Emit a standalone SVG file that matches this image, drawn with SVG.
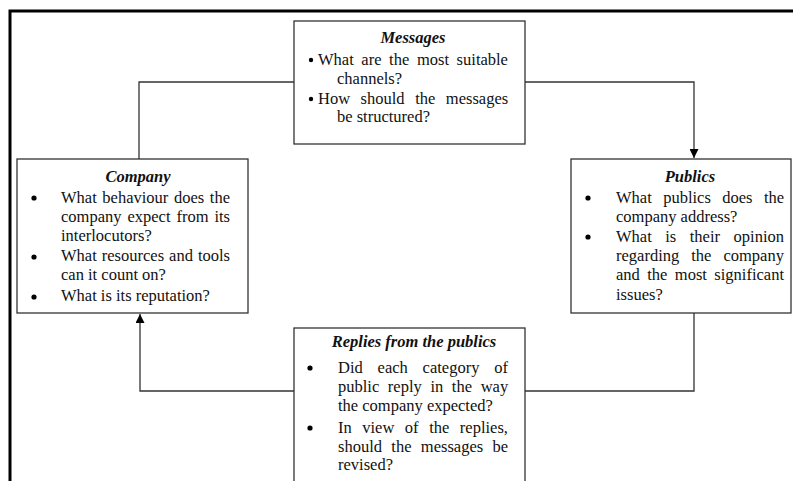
<svg xmlns="http://www.w3.org/2000/svg" width="793" height="481" viewBox="0 0 793 481">
<defs>
<marker id="arr" viewBox="0 0 10 10" refX="10" refY="5" markerWidth="9" markerHeight="9" markerUnits="userSpaceOnUse" orient="auto"><path d="M0,0 L10,5 L0,10 z" fill="#000"/></marker>
<style>
.box{fill:#fff;stroke:#333;stroke-width:1.3}
.con{fill:none;stroke:#333;stroke-width:1.3}
text{font-family:"Liberation Serif","Times New Roman",serif;font-size:16.5px;fill:#111}
.t{font-weight:bold;font-style:italic;text-anchor:middle}
.b{fill:#000}
</style>
</defs>
<rect width="793" height="481" fill="#fff"/>
<path d="M10,482 V11 H794" fill="none" stroke="#000" stroke-width="3"/>
<g id="connectors">
<path class="con" d="M525,82 H694 V158" marker-end="url(#arr)"/>
<path class="con" d="M694,313 V391 H525"/>
<path class="con" d="M294,391 H140 V314" marker-end="url(#arr)"/>
<path class="con" d="M139,159 V82 H294"/>
</g>
<g id="messages">
<rect class="box" x="294" y="21" width="231" height="123"/>
<text class="t" x="413" y="43">Messages</text>
<circle class="b" cx="311" cy="60" r="2.2"/>
<text x="318" y="65" word-spacing="3.5">What are the most suitable</text>
<text x="337" y="84">channels?</text>
<circle class="b" cx="311" cy="99" r="2.2"/>
<text x="318" y="104" word-spacing="6.4">How should the messages</text>
<text x="337" y="122">be structured?</text>
</g>
<g id="company">
<rect class="box" x="17" y="159" width="231" height="154"/>
<text class="t" x="138" y="182">Company</text>
<circle class="b" cx="34" cy="198" r="2.6"/>
<text x="61" y="203" word-spacing="1.5">What behaviour does the</text>
<text x="61" y="222" word-spacing="1.8">company expect from its</text>
<text x="61" y="241">interlocutors?</text>
<circle class="b" cx="34" cy="257" r="2.6"/>
<text x="61" y="261" word-spacing="0.9">What resources and tools</text>
<text x="61" y="280">can it count on?</text>
<circle class="b" cx="34" cy="297" r="2.6"/>
<text x="61" y="301">What is its reputation?</text>
</g>
<g id="publics">
<rect class="box" x="571" y="159" width="220" height="154"/>
<text class="t" x="690" y="182">Publics</text>
<circle class="b" cx="588" cy="198" r="2.6"/>
<text x="616" y="203" word-spacing="7.3">What publics does the</text>
<text x="616" y="222">company address?</text>
<circle class="b" cx="588" cy="237" r="2.6"/>
<text x="616" y="242" word-spacing="9.4">What is their opinion</text>
<text x="616" y="261" word-spacing="7.9">regarding the company</text>
<text x="616" y="280" word-spacing="3.3">and the most significant</text>
<text x="616" y="300">issues?</text>
</g>
<g id="replies">
<rect class="box" x="294" y="328" width="231" height="170"/>
<text class="t" x="414" y="347">Replies from the publics</text>
<circle class="b" cx="310" cy="368" r="2.6"/>
<text x="338" y="373" word-spacing="10.7">Did each category of</text>
<text x="338" y="392" word-spacing="4.5">public reply in the way</text>
<text x="338" y="411">the company expected?</text>
<circle class="b" cx="310" cy="428" r="2.6"/>
<text x="338" y="433" word-spacing="6.4">In view of the replies,</text>
<text x="338" y="452" word-spacing="5.2">should the messages be</text>
<text x="338" y="470">revised?</text>
</g>
</svg>
